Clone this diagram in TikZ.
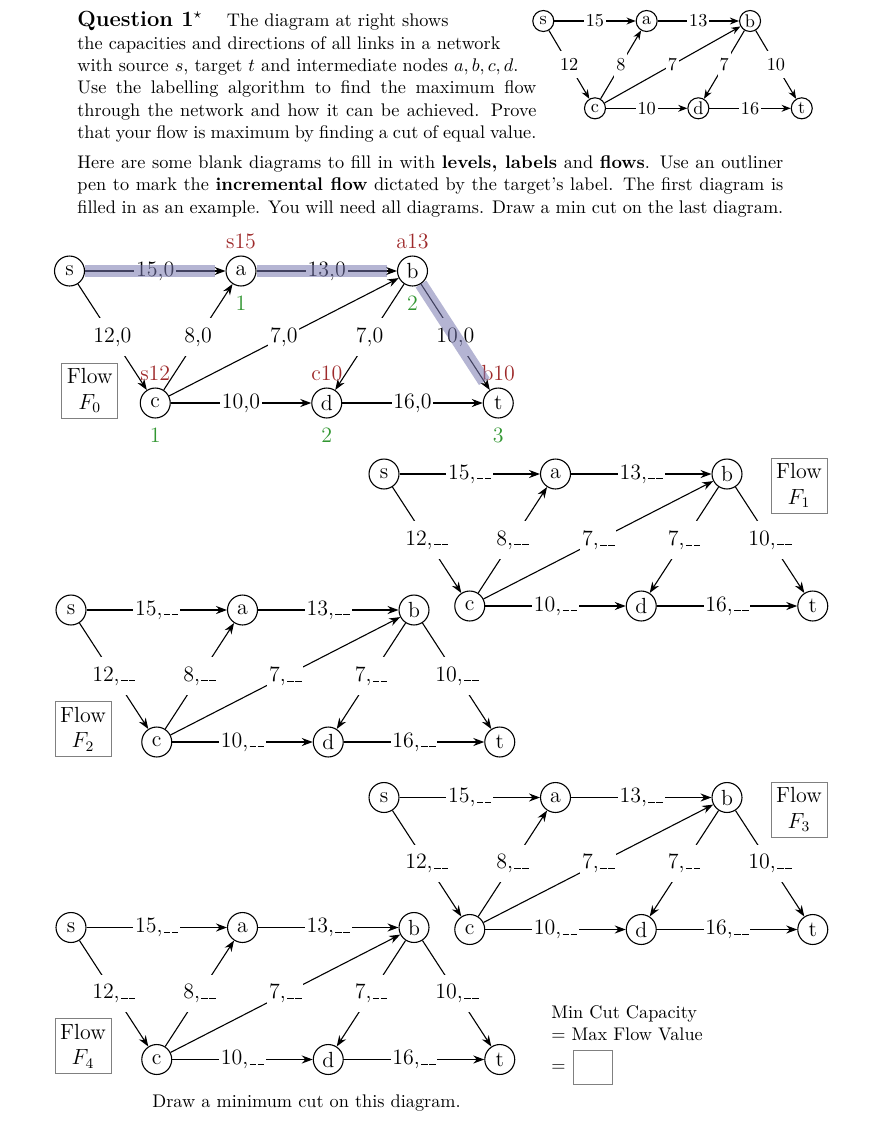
\documentclass[tikz,border=0pt]{standalone}
\usepackage{xcolor}
\usepackage{tikz}
\usetikzlibrary{arrows.meta, positioning}

\definecolor{labred}{RGB}{158,42,43}
\definecolor{levgreen}{RGB}{50,150,50}
\definecolor{pathhl}{RGB}{120,120,175}

\newcommand{\flowgap}{\kern.06em\vbox{\hrule width .3em}}

\tikzset{
  vertex/.style={circle, draw, semithick, inner sep=0pt, minimum size=16.4pt},
  caplabel/.style={fill=white, inner xsep=1pt, inner ysep=5pt},
  link/.style={semithick, -{Stealth[length=6pt, width=4.4pt]}},
  bignet/.style={x=46.95pt, y=-72.27pt, font=\large},
  smallnet/.style={x=28.3pt, y=-47.8pt, font=\normalsize,
    vertex/.append style={minimum size=11.5pt},
    caplabel/.append style={inner ysep=4pt},
    link/.append style={-{Stealth[length=5pt, width=3.8pt]}}},
  flowbox/.style={draw=gray, thin, align=center, minimum width=30.7pt,
    minimum height=30.1pt, inner sep=1pt, font=\large},
  labmark/.style={text=labred, font=\large, inner sep=0pt},
  levmark/.style={text=levgreen, font=\large, inner sep=0pt},
  augpath/.style={line width=7pt, draw=pathhl, opacity=0.55, shorten >=5.5pt},
  prose/.style={anchor=north west, align=justify, inner sep=0pt,
    font=\fontsize{10}{12.26}\selectfont},
}

% one network: #1 scope options, #2 name prefix, #3 flow part of the labels
\newcommand{\flownet}[3][bignet]{%
  \begin{scope}[#1]
    \node[vertex] (#2s) at (0,0) {s};
    \node[vertex] (#2a) at (2,0) {a};
    \node[vertex] (#2b) at (4,0) {b};
    \node[vertex] (#2c) at (1,1) {c};
    \node[vertex] (#2d) at (3,1) {d};
    \node[vertex] (#2t) at (5,1) {t};
    \draw[link] (#2s) -- node[caplabel]{15#3} (#2a);
    \draw[link] (#2a) -- node[caplabel]{13#3} (#2b);
    \draw[link] (#2s) -- node[caplabel]{12#3} (#2c);
    \draw[link] (#2c) -- node[caplabel]{8#3} (#2a);
    \draw[link] (#2c) -- node[caplabel]{7#3} (#2b);
    \draw[link] (#2b) -- node[caplabel]{7#3} (#2d);
    \draw[link] (#2b) -- node[caplabel]{10#3} (#2t);
    \draw[link] (#2c) -- node[caplabel]{10#3} (#2d);
    \draw[link] (#2d) -- node[caplabel]{16#3} (#2t);
  \end{scope}}

\begin{document}
\begin{tikzpicture}[x=0.5475pt, y=-0.5475pt]
  \useasboundingbox (0,0) rectangle (876,1140);

  % the question
  \node[prose, text width=251.3pt] (intro) at (77,11)
    {{\large\bfseries Question 1$^\star$}\hspace{1.35em}The diagram at right shows\\
     the capacities and directions of all links in a network\\
     with source $s$, target $t$ and intermediate nodes $a,b,c,d$.\\
     Use the labelling algorithm to find the maximum flow\linebreak through
     the network and how it can be achieved. Prove\linebreak that your flow
     is maximum by finding a cut of equal value.};
  \flownet[shift={(543.3,21)}, smallnet]{Q}{}

  \node[prose, text width=386.5pt] (howto) at (77,155)
    {Here are some blank diagrams to fill in with \textbf{levels, labels} and
     \textbf{flows}. Use an outliner\linebreak pen to mark the
     \textbf{incremental flow} dictated by the target's label. The first
     diagram is\linebreak filled in as an example. You will need all
     diagrams. Draw a min cut on the last diagram.};

  % worked example F0
  \flownet[shift={(69.5,271)}, bignet]{F}{,0}
  \node[flowbox] (Fbox) at (89.7,390.5) {Flow\\$F_0$};
  \node[labmark, above=3.5pt of Fa] (Fla) {s15};
  \node[labmark, above=3.5pt of Fb] (Flb) {a13};
  \node[labmark, above=3.5pt of Fc] (Flc) {s12};
  \node[labmark, above=3.5pt of Fd] (Fld) {c10};
  \node[labmark, above=3.5pt of Ft] (Flt) {b10};
  \node[levmark, below=4.9pt of Fa] (Fva) {1};
  \node[levmark, below=4.9pt of Fb] (Fvb) {2};
  \node[levmark, below=4.9pt of Fc] (Fvc) {1};
  \node[levmark, below=4.9pt of Fd] (Fvd) {2};
  \node[levmark, below=4.9pt of Ft] (Fvt) {3};
  \draw[augpath] (Fs) -- (Fa);
  \draw[augpath] (Fa) -- (Fb);
  \draw[augpath] (Fb) -- (Ft);

  % blank ones
  \flownet[shift={(384,474)}, bignet]{G}{,\flowgap\flowgap}
  \node[flowbox] (Gbox) at (799,485.8) {Flow\\$F_1$};
  \flownet[shift={(71,610)}, bignet]{H}{,\flowgap\flowgap}
  \node[flowbox] (Hbox) at (83,729) {Flow\\$F_2$};
  \flownet[shift={(384,797.5)}, bignet]{J}{,\flowgap\flowgap}
  \node[flowbox] (Jbox) at (799,809.5) {Flow\\$F_3$};
  \flownet[shift={(71,927.5)}, bignet]{K}{,\flowgap\flowgap}
  \node[flowbox] (Kbox) at (83,1046) {Flow\\$F_4$};

  % min cut
  \node[anchor=base west, align=left, inner sep=0pt] (cutcap) at (551,1040)
    {Min Cut Capacity\\= Max Flow Value};
  \node[anchor=base west, inner sep=0pt] (eqsign) at (551,1071) {$=$};
  \node[draw=gray, minimum width=21.4pt, minimum height=18.6pt, right=4pt of eqsign] (cutbox) {};
  \node[anchor=base west, inner sep=0pt] (cutnote) at (152,1107) {Draw a minimum cut on this diagram.};
\end{tikzpicture}
\end{document}
